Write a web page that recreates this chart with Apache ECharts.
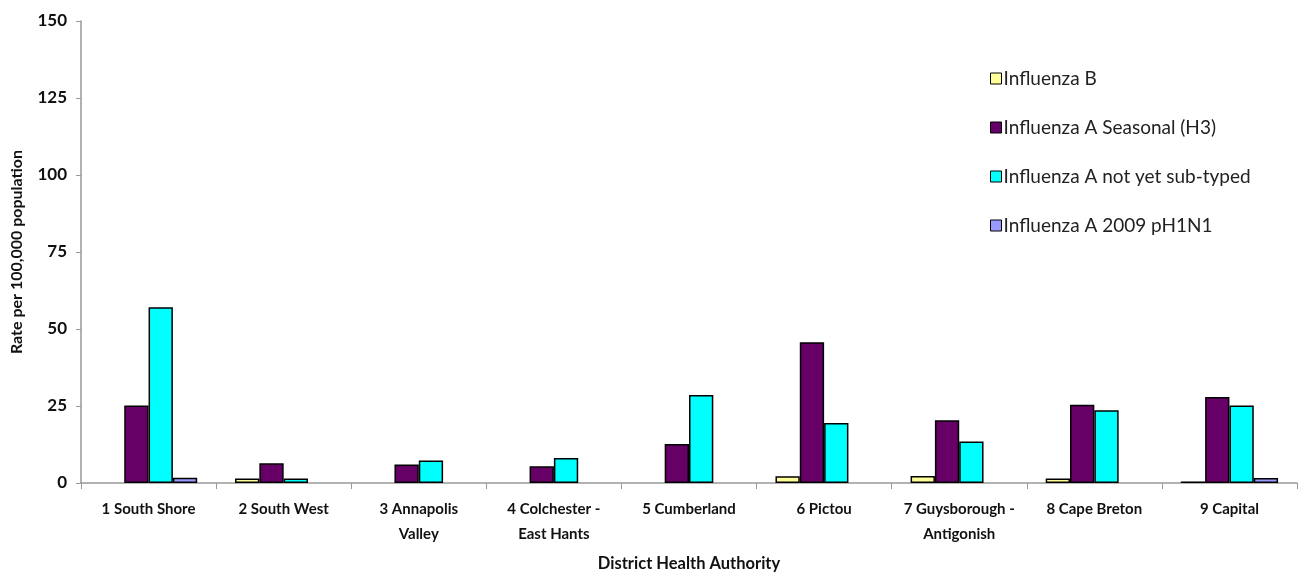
<!DOCTYPE html>
<html>
<head>
<meta charset="utf-8">
<script src="https://cdn.jsdelivr.net/npm/echarts@6/dist/echarts.min.js"></script>
<style>
  html, body { margin: 0; padding: 0; background: #fff; }
  #chart { width: 1309px; height: 577px; }
</style>
</head>
<body>
<div id="chart"></div>
<script>
// District Health Authorities (x-axis categories)
const districts = [
  '1 South Shore', '2 South West', '3 Annapolis\nValley', '4 Colchester -\nEast Hants',
  '5 Cumberland', '6 Pictou', '7 Guysborough -\nAntigonish', '8 Cape Breton', '9 Capital'
];

// Rates per 100,000 population by influenza type
const influenzaB      = [0,    1.5, 0,   0,   0,    2.2,  2.3,  1.5,  0.5];
const seasonalH3      = [25.2, 6.4, 6.0, 5.4, 12.7, 45.7, 20.4, 25.4, 27.9];
const notSubtyped     = [57.1, 1.5, 7.3, 8.1, 28.6, 19.5, 13.5, 23.6, 25.2];
const pandemicH1N1    = [1.7,  0,   0,   0,   0,    0,    0,    0,    1.6];

const seriesNames = [
  'Influenza B', 'Influenza A Seasonal (H3)',
  'Influenza A not yet sub-typed', 'Influenza A 2009 pH1N1'
];
const seriesColors = ['#FFFF99', '#660066', '#00FFFF', '#9999FF'];
const seriesValues = [influenzaB, seasonalH3, notSubtyped, pandemicH1N1];

const yTicks = { min: 0, max: 150, interval: 25 };

const font = 'Lato, "Liberation Sans", sans-serif';

// zero-rate bars get no outline so nothing is drawn on the baseline
const toBarData = values => values.map(v =>
  v === 0 ? { value: v, itemStyle: { borderWidth: 0 } } : v
);

const chart = echarts.init(document.getElementById('chart'), null, { renderer: 'canvas' });

chart.setOption({
  animation: false,
  backgroundColor: '#ffffff',
  grid: { left: 81, right: 12, top: 21, bottom: 89, containLabel: false },
  legend: {
    orient: 'vertical',
    left: 985,
    top: 64,
    itemWidth: 11,
    itemHeight: 11,
    itemGap: 30,
    icon: 'rect',
    data: seriesNames,
    textStyle: { fontFamily: font, fontSize: 19, color: '#222', padding: [0, 0, 0, -3] },
    itemStyle: { borderColor: '#000', borderWidth: 1 }
  },
  xAxis: {
    type: 'category',
    data: districts,
    name: 'District Health Authority',
    nameLocation: 'middle',
    nameGap: 72,
    nameTextStyle: { fontFamily: font, fontSize: 16.5, fontWeight: 'bold', color: '#111' },
    axisLine: { lineStyle: { color: '#999', width: 1.5 } },
    axisTick: { show: true, length: 6, lineStyle: { color: '#999' } },
    axisLabel: {
      interval: 0, margin: 14, fontFamily: font, fontSize: 15, fontWeight: 'bold',
      color: '#111', lineHeight: 25
    }
  },
  yAxis: {
    type: 'value',
    min: yTicks.min,
    max: yTicks.max,
    interval: yTicks.interval,
    name: 'Rate per 100,000 population',
    nameLocation: 'middle',
    nameGap: 56,
    nameRotate: 90,
    nameTextStyle: { fontFamily: font, fontSize: 16, fontWeight: 'bold', color: '#111' },
    axisLine: { show: true, lineStyle: { color: '#999', width: 1.5 } },
    axisTick: { show: true, length: 5, lineStyle: { color: '#999' } },
    splitLine: { show: false },
    axisLabel: { margin: 14, fontFamily: font, fontSize: 17, fontWeight: 'bold', color: '#111' }
  },
  series: seriesNames.map((name, i) => ({
    name: name,
    type: 'bar',
    data: toBarData(seriesValues[i]),
    barGap: '0%',
    barCategoryGap: '28%',
    itemStyle: { color: seriesColors[i], borderColor: '#000', borderWidth: 1.5 }
  }))
});
</script>
</body>
</html>
